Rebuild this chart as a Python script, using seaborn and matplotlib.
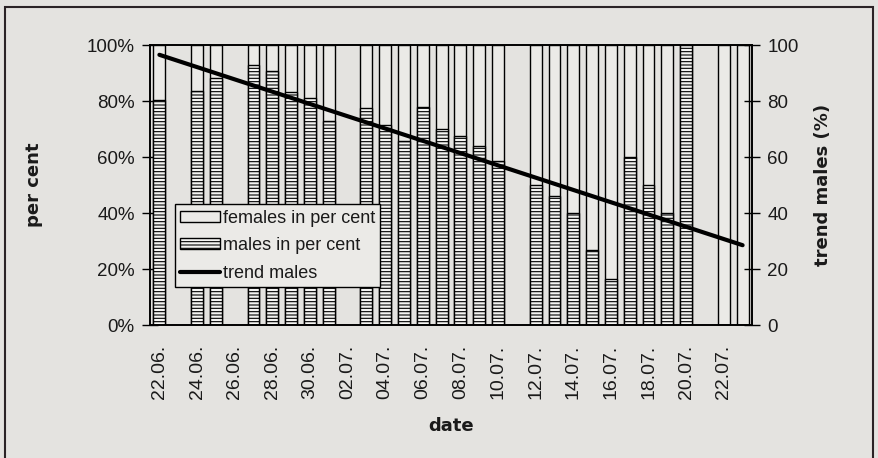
import numpy as np
import pandas as pd
import matplotlib
matplotlib.use("Agg")
import matplotlib.pyplot as plt
import seaborn as sns
from matplotlib.patches import Patch, Rectangle
from matplotlib.lines import Line2D
from matplotlib.ticker import PercentFormatter

# daily categories on the x axis
dates = ["22.06.", "23.06.", "24.06.", "25.06.", "26.06.", "27.06.", "28.06.",
         "29.06.", "30.06.", "01.07.", "02.07.", "03.07.", "04.07.", "05.07.",
         "06.07.", "07.07.", "08.07.", "09.07.", "10.07.", "11.07.", "12.07.",
         "13.07.", "14.07.", "15.07.", "16.07.", "17.07.", "18.07.", "19.07.",
         "20.07.", "21.07.", "22.07.", "23.07."]
labelled_dates = ["22.06.", "24.06.", "26.06.", "28.06.", "30.06.", "02.07.",
                  "04.07.", "06.07.", "08.07.", "10.07.", "12.07.", "14.07.",
                  "16.07.", "18.07.", "20.07.", "22.07."]

nan = np.nan
males_pct = [80.4, nan, 83.5, 88.2, nan, 92.8, 90.8, 83.2, 81.0, 73.0, nan,
             77.6, 71.4, 65.6, 78.0, 69.9, 67.4, 64.0, 58.7, nan, 50.0, 46.0,
             40.0, 26.8, 16.4, 60.0, 50.0, 40.0, 100.0, nan, 0.0, 0.0]
females_pct = [None if np.isnan(m) else 100.0 - m for m in males_pct]

# linear trend of the male share (right axis)
trend_dates = ["22.06.", "23.07."]
trend_males = [96.5, 28.5]

df = pd.DataFrame({"date": dates, "males": males_pct, "females": females_pct}).dropna()
df["total"] = df["males"] + df["females"]

BG = "#e4e3e0"
FEMALE = "#ebeae7"

sns.set_theme(style="white")
plt.rcParams["font.family"] = ["Liberation Sans", "DejaVu Sans"]
plt.rcParams["hatch.linewidth"] = 0.8
plt.rcParams["hatch.color"] = "#2a2a2a"

fig = plt.figure(figsize=(8.79, 4.58), dpi=100, facecolor=BG)
ax = fig.add_axes([150 / 879, 1 - 325 / 458, 602 / 879, 280 / 458])
ax.set_facecolor(BG)

# stacked 100 % columns: full column = females, lower part = males
sns.barplot(data=df, x="date", y="total", order=dates, color=FEMALE,
            edgecolor="black", linewidth=1.0, width=0.63, errorbar=None,
            saturation=1, ax=ax)
sns.barplot(data=df, x="date", y="males", order=dates, color="#f4f4f2",
            edgecolor="black", linewidth=1.0, width=0.63, errorbar=None,
            saturation=1, hatch="-----", ax=ax)

ax.set_xlim(-0.5, len(dates) - 0.5)
ax.set_ylim(0, 100)
ax.yaxis.set_major_formatter(PercentFormatter(decimals=0))
ax.set_yticks(np.arange(0, 101, 20))
ax.set_xticks([dates.index(d) for d in labelled_dates])
ax.set_xticklabels(labelled_dates, rotation=90)
ax.set_xticks(np.arange(-0.5, len(dates), 1.0), minor=True)
ax.tick_params(axis="x", which="major", length=0, pad=14, labelsize=14,
               colors="#1a1a1a")
ax.tick_params(axis="x", which="minor", direction="inout", length=11, width=1.0,
               color="black")
ax.tick_params(axis="y", which="major", direction="inout", length=12, width=1.0,
               pad=5, labelsize=13.5, color="black", labelcolor="#1a1a1a",
               left=True)
for s in ax.spines.values():
    s.set_color("black")
    s.set_linewidth(1.2)

# trend line on a secondary axis
ax2 = ax.twinx()
sns.lineplot(x=[dates.index(d) for d in trend_dates], y=trend_males,
             color="black", linewidth=3, ax=ax2)
ax2.set_ylim(0, 100)
ax2.set_xlim(-0.5, len(dates) - 0.5)
ax2.set_yticks(np.arange(0, 101, 20))
ax2.tick_params(axis="y", direction="inout", length=12, width=1.0, pad=5,
                labelsize=13.5, color="black", labelcolor="#1a1a1a", right=True)
for s in ax2.spines.values():
    s.set_color("black")
    s.set_linewidth(1.2)

label_font = dict(family="DejaVu Sans", fontweight="bold", fontsize=13,
                  color="#1a1a1a")
ax.set_xlabel("date", **label_font)
ax.set_ylabel("per cent", **label_font)
ax2.set_ylabel("trend males (%)", **label_font)
ax.xaxis.set_label_coords(0.5, -0.33)
ax.yaxis.set_label_coords(-0.178, 0.5)
ax2.yaxis.set_label_coords(1.103, 0.5)

handles = [
    Patch(facecolor=FEMALE, edgecolor="black", label="females in per cent"),
    Patch(facecolor="#f4f4f2", edgecolor="black", hatch="-----",
          label="males in per cent"),
    Line2D([], [], color="black", linewidth=3, label="trend males"),
]
leg = ax2.legend(handles=handles, loc="lower left",
                 bbox_to_anchor=(0.0415, 0.136), borderaxespad=0,
                 fontsize=13, frameon=True, fancybox=False, framealpha=1,
                 facecolor=FEMALE, edgecolor="black", handlelength=2.2,
                 handleheight=0.55, handletextpad=0.15, labelspacing=0.58,
                 borderpad=0.3)
leg.get_frame().set_linewidth(1.0)
for t in leg.get_texts():
    t.set_color("#1a1a1a")

# page frame
fig.patches.append(Rectangle((5 / 879, -0.02), 868 / 879, 1.02 - 7 / 458,
                             transform=fig.transFigure, fill=False,
                             edgecolor="#2b2326", linewidth=1.5))

fig.savefig("out.png", dpi=100, facecolor=BG)
